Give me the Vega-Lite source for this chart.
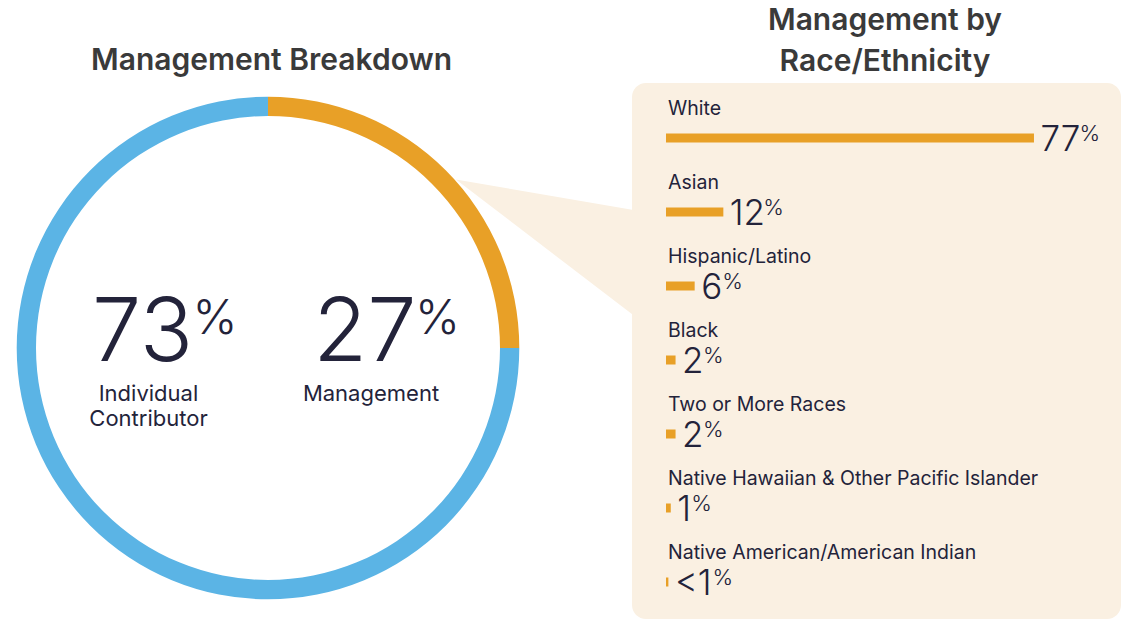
{
  "$schema": "https://vega.github.io/schema/vega-lite/v6.json",
  "background": "white",
  "padding": {"left": 0, "top": 6, "right": 0, "bottom": 0},
  "bounds": "flush",
  "spacing": 96,
  "config": {
    "view": {"stroke": null},
    "font": "Inter",
    "text": {"font": "Inter", "color": "#23233a"},
    "title": {"font": "Inter", "fontSize": 30, "fontWeight": 600, "color": "#3a3a3a", "anchor": "middle", "baseline": "bottom"}
  },
  "datasets": {
    "ring": [
      {"segment": "Management", "share": 25},
      {"segment": "Individual Contributor", "share": 75}
    ],
    "breakdown": [
      {"group": "Individual Contributor", "pct": 73, "caption": "Individual\nContributor"},
      {"group": "Management", "pct": 27, "caption": "Management"}
    ],
    "race": [
      {"category": "White", "value": 77, "label": "77"},
      {"category": "Asian", "value": 12, "label": "12"},
      {"category": "Hispanic/Latino", "value": 6, "label": "6"},
      {"category": "Black", "value": 2, "label": "2"},
      {"category": "Two or More Races", "value": 2, "label": "2"},
      {"category": "Native Hawaiian & Other Pacific Islander", "value": 1, "label": "1"},
      {"category": "Native American/American Indian", "value": 0.5, "label": "<1"}
    ]
  },
  "hconcat": [
    {
      "width": 536,
      "height": 530,
      "title": {"text": "Management Breakdown", "offset": 7, "dx": 3.5},
      "layer": [
        {
          "data": {"name": "ring"},
          "mark": {"type": "arc", "innerRadius": 232, "outerRadius": 251.3},
          "encoding": {
            "theta": {"field": "share", "type": "quantitative", "stack": true},
            "order": {"field": "share", "type": "quantitative", "sort": "ascending"},
            "color": {"field": "segment", "type": "nominal", "scale": {"domain": ["Management", "Individual Contributor"], "range": ["#E8A027", "#5BB4E5"]}, "legend": null}
          }
        },
        {
          "data": {"name": "breakdown"},
          "mark": {"type": "text", "fontSize": 88, "fontWeight": 300, "align": "center", "baseline": "alphabetic", "dy": 13},
          "encoding": {
            "x": {"field": "group", "type": "nominal", "scale": {"type": "point", "domain": ["Individual Contributor", "Management"], "padding": 0.7045, "align": 0.4545}, "axis": null},
            "text": {"field": "pct", "type": "quantitative"}
          }
        },
        {
          "data": {"name": "breakdown"},
          "mark": {"type": "text", "fontSize": 48, "fontWeight": 300, "align": "left", "baseline": "alphabetic", "dx": 50, "dy": -14},
          "encoding": {
            "x": {"field": "group", "type": "nominal", "axis": null},
            "text": {"value": "%"}
          }
        },
        {
          "data": {"name": "breakdown"},
          "mark": {"type": "text", "fontSize": 22, "align": "center", "baseline": "alphabetic", "dx": 6, "dy": 53, "lineBreak": "\n", "lineHeight": 25},
          "encoding": {
            "x": {"field": "group", "type": "nominal", "axis": null},
            "text": {"field": "caption"}
          }
        }
      ]
    },
    {
      "width": 489,
      "height": 536,
      "view": {"fill": "#FAF0E2", "stroke": null, "cornerRadius": 14},
      "title": {"text": ["Management by", "Race/Ethnicity"], "offset": 6, "dx": 8.5, "lineHeight": 41},
      "layer": [
        {
          "data": {"name": "race"},
          "transform": [{"filter": "datum.category == 'Asian'"}],
          "mark": {"type": "point", "shape": "M-0.99,-0.785L1.05,-0.435L1.05,0.774Z", "size": 31329, "filled": true, "opacity": 1, "color": "#FAF0E2", "strokeWidth": 0},
          "encoding": {
            "x": {"datum": -25.63, "type": "quantitative", "axis": null},
            "y": {"field": "category", "type": "nominal", "bandPosition": 1, "axis": null}
          }
        },
        {
          "data": {"name": "race"},
          "mark": {"type": "bar", "height": 9, "color": "#E8A027"},
          "encoding": {
            "x": {"field": "value", "type": "quantitative", "scale": {"domain": [-7.114, 95.21], "nice": false, "zero": false}, "axis": null},
            "y": {"field": "category", "type": "nominal", "scale": {"domain": ["White", "Asian", "Hispanic/Latino", "Black", "Two or More Races", "Native Hawaiian & Other Pacific Islander", "Native American/American Indian"], "paddingInner": 0, "paddingOuter": 0.1216, "align": 1}, "axis": null}
          }
        },
        {
          "data": {"name": "race"},
          "mark": {"type": "text", "align": "left", "baseline": "alphabetic", "dx": 2, "dy": -23, "fontSize": 19.5},
          "encoding": {
            "x": {"datum": 0, "type": "quantitative", "axis": null},
            "y": {"field": "category", "type": "nominal", "axis": null},
            "text": {"field": "category"}
          }
        },
        {
          "data": {"name": "race"},
          "mark": {"type": "text", "align": "left", "baseline": "alphabetic", "dx": 6.5, "dy": 13.5, "fontSize": 35, "fontWeight": 300},
          "encoding": {
            "x": {"field": "value", "type": "quantitative", "axis": null},
            "y": {"field": "category", "type": "nominal", "axis": null},
            "text": {"field": "label"}
          }
        },
        {
          "data": {"name": "race"},
          "transform": [{"filter": "datum.label == '77'"}],
          "mark": {"type": "text", "align": "left", "baseline": "alphabetic", "dx": 45.5, "dy": 3.5, "fontSize": 22, "fontWeight": 300},
          "encoding": {"x": {"field": "value", "type": "quantitative", "axis": null}, "y": {"field": "category", "type": "nominal", "axis": null}, "text": {"value": "%"}}
        },
        {
          "data": {"name": "race"},
          "transform": [{"filter": "datum.label == '12'"}],
          "mark": {"type": "text", "align": "left", "baseline": "alphabetic", "dx": 40, "dy": 3.5, "fontSize": 22, "fontWeight": 300},
          "encoding": {"x": {"field": "value", "type": "quantitative", "axis": null}, "y": {"field": "category", "type": "nominal", "axis": null}, "text": {"value": "%"}}
        },
        {
          "data": {"name": "race"},
          "transform": [{"filter": "datum.label == '6'"}],
          "mark": {"type": "text", "align": "left", "baseline": "alphabetic", "dx": 27.5, "dy": 3.5, "fontSize": 22, "fontWeight": 300},
          "encoding": {"x": {"field": "value", "type": "quantitative", "axis": null}, "y": {"field": "category", "type": "nominal", "axis": null}, "text": {"value": "%"}}
        },
        {
          "data": {"name": "race"},
          "transform": [{"filter": "datum.label == '2'"}],
          "mark": {"type": "text", "align": "left", "baseline": "alphabetic", "dx": 27.5, "dy": 3.5, "fontSize": 22, "fontWeight": 300},
          "encoding": {"x": {"field": "value", "type": "quantitative", "axis": null}, "y": {"field": "category", "type": "nominal", "axis": null}, "text": {"value": "%"}}
        },
        {
          "data": {"name": "race"},
          "transform": [{"filter": "datum.label == '1'"}],
          "mark": {"type": "text", "align": "left", "baseline": "alphabetic", "dx": 20.5, "dy": 3.5, "fontSize": 22, "fontWeight": 300},
          "encoding": {"x": {"field": "value", "type": "quantitative", "axis": null}, "y": {"field": "category", "type": "nominal", "axis": null}, "text": {"value": "%"}}
        },
        {
          "data": {"name": "race"},
          "transform": [{"filter": "datum.label == '<1'"}],
          "mark": {"type": "text", "align": "left", "baseline": "alphabetic", "dx": 44, "dy": 3.5, "fontSize": 22, "fontWeight": 300},
          "encoding": {"x": {"field": "value", "type": "quantitative", "axis": null}, "y": {"field": "category", "type": "nominal", "axis": null}, "text": {"value": "%"}}
        }
      ]
    }
  ]
}
